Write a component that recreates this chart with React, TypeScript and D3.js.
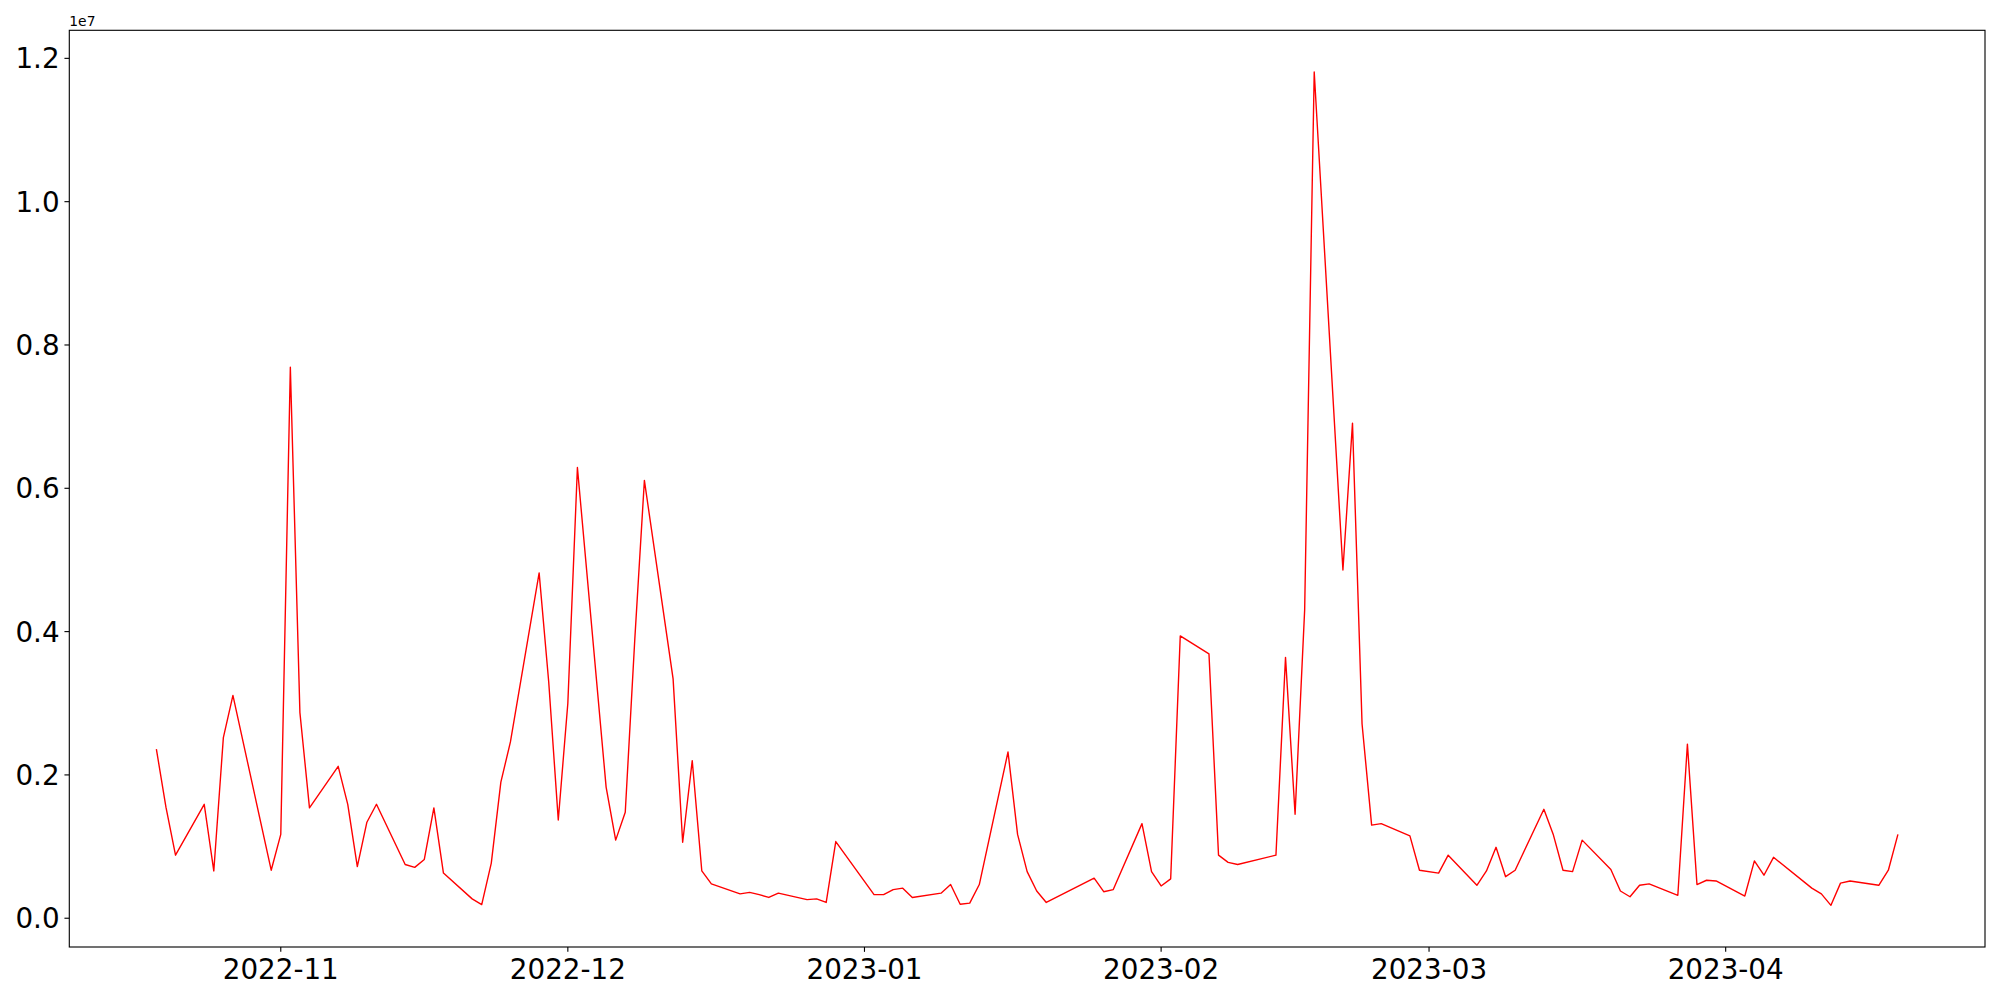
import React from "react";
import * as d3 from "d3";

const dates: string[] = [
  "2022-10-19","2022-10-20","2022-10-21","2022-10-24","2022-10-25","2022-10-26","2022-10-27","2022-10-31",
  "2022-11-01","2022-11-02","2022-11-03","2022-11-04","2022-11-07","2022-11-08","2022-11-09","2022-11-10","2022-11-11",
  "2022-11-14","2022-11-15","2022-11-16","2022-11-17","2022-11-18","2022-11-21","2022-11-22","2022-11-23","2022-11-24","2022-11-25",
  "2022-11-28","2022-11-29","2022-11-30","2022-12-01","2022-12-02","2022-12-05","2022-12-06","2022-12-07","2022-12-08","2022-12-09",
  "2022-12-12","2022-12-13","2022-12-14","2022-12-15","2022-12-16","2022-12-19","2022-12-20","2022-12-21","2022-12-22","2022-12-23",
  "2022-12-26","2022-12-27","2022-12-28","2022-12-29","2023-01-02","2023-01-03","2023-01-04","2023-01-05","2023-01-06",
  "2023-01-09","2023-01-10","2023-01-11","2023-01-12","2023-01-13","2023-01-16","2023-01-17","2023-01-18","2023-01-19","2023-01-20",
  "2023-01-25","2023-01-26","2023-01-27","2023-01-30","2023-01-31","2023-02-01","2023-02-02","2023-02-03",
  "2023-02-06","2023-02-07","2023-02-08","2023-02-09","2023-02-13","2023-02-14","2023-02-15","2023-02-16","2023-02-17",
  "2023-02-20","2023-02-21","2023-02-22","2023-02-23","2023-02-24","2023-02-27","2023-02-28","2023-03-02","2023-03-03",
  "2023-03-06","2023-03-07","2023-03-08","2023-03-09","2023-03-10","2023-03-13","2023-03-14","2023-03-15","2023-03-16","2023-03-17",
  "2023-03-20","2023-03-21","2023-03-22","2023-03-23","2023-03-24","2023-03-27","2023-03-28","2023-03-29","2023-03-30","2023-03-31",
  "2023-04-03","2023-04-04","2023-04-05","2023-04-06","2023-04-10","2023-04-11","2023-04-12","2023-04-13","2023-04-14",
  "2023-04-17","2023-04-18","2023-04-19",
];

// values in millions
const valuesM: number[] = [
  2.36, 1.55, 0.88, 1.59, 0.66, 2.52, 3.11, 0.67,
  1.17, 7.69, 2.87, 1.54, 2.12, 1.59, 0.72, 1.34, 1.59,
  0.75, 0.71, 0.82, 1.54, 0.63, 0.27, 0.19, 0.77, 1.90, 2.46,
  4.82, 3.30, 1.37, 3.00, 6.29, 1.83, 1.09, 1.48, 3.90, 6.11,
  3.34, 1.06, 2.20, 0.66, 0.48, 0.34, 0.36, 0.33, 0.29, 0.35,
  0.26, 0.27, 0.22, 1.07, 0.33, 0.33, 0.40, 0.42, 0.29,
  0.35, 0.47, 0.195, 0.21, 0.47, 2.32, 1.17, 0.65, 0.38, 0.22,
  0.56, 0.37, 0.40, 1.32, 0.65, 0.45, 0.55, 3.94,
  3.69, 0.88, 0.78, 0.75, 0.88, 3.64, 1.45, 4.30, 11.81,
  4.86, 6.91, 2.71, 1.30, 1.32, 1.15, 0.67, 0.63, 0.88,
  0.46, 0.66, 0.99, 0.58, 0.67, 1.52, 1.16, 0.67, 0.65, 1.09,
  0.68, 0.38, 0.30, 0.46, 0.48, 0.32, 2.43, 0.47, 0.53, 0.52,
  0.31, 0.80, 0.60, 0.85, 0.42, 0.34, 0.18, 0.49, 0.52,
  0.46, 0.67, 1.17,
];

const yTicks: number[] = [0, 2e6, 4e6, 6e6, 8e6, 10e6, 12e6];
const xTickDates: string[] = ["2022-11-01", "2022-12-01", "2023-01-01", "2023-02-01", "2023-03-01", "2023-04-01"];

const W = 2000;
const H = 1000;
const L = 69.3;
const R = 1985;
const T = 30.3;
const B = 947;
const FS = 27.78;
const FONT = "DejaVu Sans, sans-serif";

export default function App() {
  const parse = d3.utcParse("%Y-%m-%d");
  const data = dates.map((d, i) => ({ date: parse(d) as Date, value: valuesM[i] * 1e6 }));

  const [x0, x1] = d3.extent(data, (d) => d.date.getTime()) as [number, number];
  const xm = (x1 - x0) * 0.05;
  const x = d3.scaleUtc().domain([new Date(x0 - xm), new Date(x1 + xm)]).range([L, R]);

  const [y0, y1] = d3.extent(data, (d) => d.value) as [number, number];
  const ym = (y1 - y0) * 0.05;
  const y = d3.scaleLinear().domain([y0 - ym, y1 + ym]).range([B, T]);

  const line = d3
    .line<{ date: Date; value: number }>()
    .x((d) => x(d.date))
    .y((d) => y(d.value));

  const fmtX = d3.utcFormat("%Y-%m");
  const tickLen = 4.86;
  const pad = 4.86;

  return (
    <div style={{ position: "fixed", left: 0, top: 0 }}>
      <svg width={W} height={H} style={{ display: "block", background: "#fff" }}>
        <rect x={0} y={0} width={W} height={H} fill="#fff" />
        <defs>
          <clipPath id="plotclip">
            <rect x={L} y={T} width={R - L} height={B - T} />
          </clipPath>
        </defs>
        <path
          d={line(data) || ""}
          fill="none"
          stroke="#ff0000"
          strokeWidth={1.39}
          strokeLinejoin="round"
          clipPath="url(#plotclip)"
        />
        <rect x={L} y={T} width={R - L} height={B - T} fill="none" stroke="#000" strokeWidth={1.11} />
        {yTicks.map((v) => (
          <g key={"y" + v}>
            <line x1={L - tickLen} x2={L} y1={y(v)} y2={y(v)} stroke="#000" strokeWidth={1.11} />
            <text
              x={L - tickLen - pad}
              y={y(v) + 10.1}
              textAnchor="end"
              fontFamily={FONT}
              fontSize={FS}
              fill="#000"
            >
              {(v / 1e7).toFixed(1)}
            </text>
          </g>
        ))}
        {xTickDates.map((s) => {
          const d = parse(s) as Date;
          const px = x(d);
          return (
            <g key={"x" + s}>
              <line x1={px} x2={px} y1={B} y2={B + tickLen} stroke="#000" strokeWidth={1.11} />
              <text x={px} y={978.5} textAnchor="middle" fontFamily={FONT} fontSize={FS} fill="#000">
                {fmtX(d)}
              </text>
            </g>
          );
        })}
        <text x={L} y={25.5} fontFamily={FONT} fontSize={13.89} fill="#000">
          1e7
        </text>
      </svg>
    </div>
  );
}
